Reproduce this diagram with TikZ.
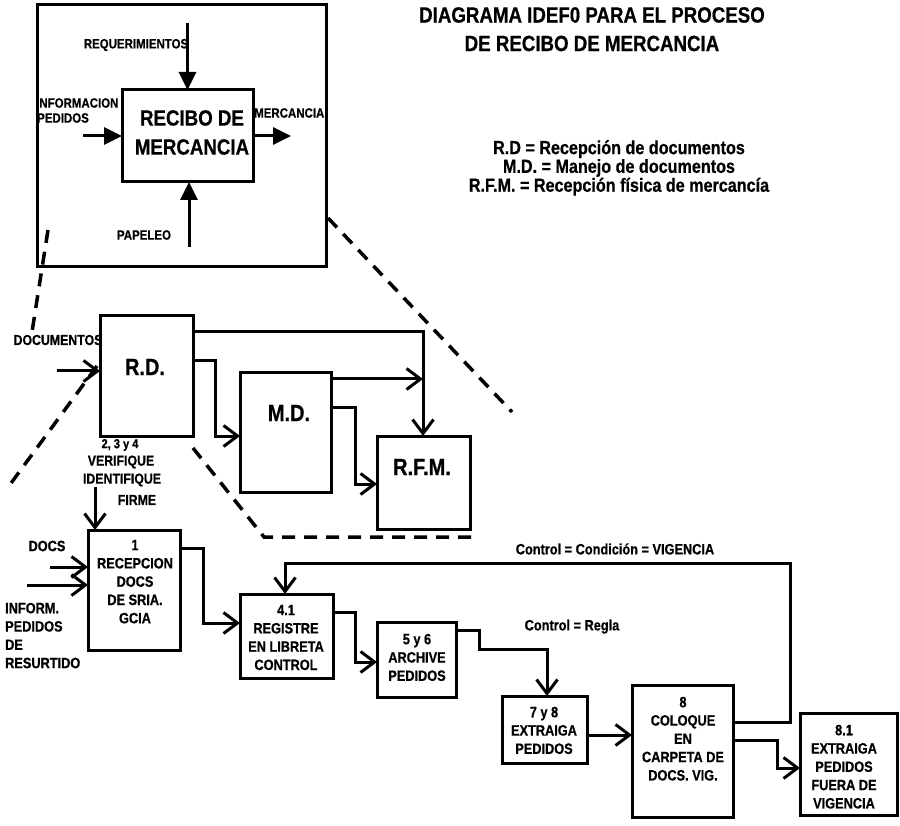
\documentclass[tikz,border=0pt]{standalone}
\usepackage{fontspec}
\setmainfont{Liberation Sans}[FakeStretch=0.85, BoldFeatures={FakeBold=0.6}]
\usetikzlibrary{arrows.meta}
\newcommand\myfs[2]{\fontsize{#1}{#2}\selectfont}
\begin{document}
\begin{tikzpicture}[x=1pt,y=-1pt,
  boxx/.style={draw, line width=3pt, inner sep=0pt, outer sep=0pt},
  ln/.style={line width=3pt},
  arrV/.style={ln, -{Straight Barb[length=14pt,width=21pt]}},
  arrF/.style={ln, -{Triangle[length=18pt,width=17pt]}},
  dsh/.style={line width=3.5pt, dash pattern=on 13pt off 9pt},
  lbl/.style={font=\bfseries\myfs{15}{18.3}, align=center, inner sep=0pt},
  slbl/.style={font=\bfseries\myfs{13.5}{15}, inner sep=0pt},
  big/.style={font=\bfseries\myfs{23.5}{26}, inner sep=0pt}
]
\useasboundingbox (0,0) rectangle (900,826);

% ---------- title and legend ----------
\node[font=\bfseries\myfs{22}{28.5}, align=center, inner sep=0pt, anchor=north] (title) at (592,7) {DIAGRAMA IDEF0 PARA EL PROCESO\\DE RECIBO DE MERCANCIA};
\node[font=\bfseries\myfs{19}{17}, align=center, inner sep=0pt, anchor=north] (legend) at (619,140) {R.D = Recepción de documentos\\M.D. = Manejo de documentos\\R.F.M. = Recepción física de mercancía};

% ---------- top context box ----------
\node[boxx, minimum width=289pt, minimum height=262pt] (outer) at (182,136) {};
\node[boxx, minimum width=131pt, minimum height=92pt] (inner) at (187.5,136) {};
\node[font=\bfseries\myfs{22}{29}, align=center, inner sep=0pt] (innert) at (192,132.5) {RECIBO DE\\MERCANCIA};

\coordinate (reqs) at (187.5,23);
\coordinate (infs) at (83,136);
\coordinate (oute) at (291,136);
\coordinate (paps) at (189,247);
\draw[arrF] (reqs) -- (inner.north);
\draw[arrF] (infs) -- (inner.west);
\draw[arrF] (inner.east) -- (oute);
\draw[arrF] (paps) -- (paps |- inner.south);

\node[slbl] (lreq) at (136,45) {REQUERIMIENTOS};
\node[slbl, anchor=west] (linf) at (36,103) {INFORMACION};
\node[slbl, anchor=west] (lped) at (37,118) {PEDIDOS};
\node[slbl, anchor=west] (lmer) at (254,113) {MERCANCIA};
\node[slbl] (lpap) at (144,235) {PAPELEO};

% ---------- middle decomposition ----------
\node[boxx, minimum width=93pt, minimum height=120pt] (RD) at (146.5,376) {};
\node[boxx, minimum width=91pt, minimum height=119pt] (MD) at (285.5,432.5) {};
\node[boxx, minimum width=93pt, minimum height=93pt] (RFM) at (423.5,482.5) {};
\node[big] (tRD) at (145,367) {R.D.};
\node[big] (tMD) at (289,413) {M.D.};
\node[big] (tRFM) at (422,467) {R.F.M.};

\node[font=\bfseries\myfs{14.5}{16}, inner sep=0pt] (ldoc) at (58,340) {DOCUMENTOS};
\coordinate (docs) at (57,371);
\draw[arrV] (docs) -- (docs -| RD.west);

\coordinate (rda) at (423,332);
\draw[arrV] (RD.east |- rda) -- (rda) -- (rda |- RFM.north);
\coordinate (rdb) at (215,361);
\coordinate (rdc) at (215,436);
\draw[arrV] (RD.east |- rdb) -- (rdb) -- (rdc) -- (rdc -| MD.west);
\coordinate (mda) at (423,379);
\draw[arrV] (MD.east |- mda) -- (mda);
\coordinate (mdb) at (355,407);
\coordinate (mdc) at (355,484);
\draw[arrV] (MD.east |- mdb) -- (mdb) -- (mdc) -- (mdc -| RFM.west);

\node[font=\bfseries\myfs{13}{15}, inner sep=0pt] (l234) at (120,445) {2, 3 y 4};
\node[font=\bfseries\myfs{14.5}{16}, inner sep=0pt] (lver) at (121,462) {VERIFIQUE};
\node[font=\bfseries\myfs{14.5}{16}, inner sep=0pt] (lide) at (122,480) {IDENTIFIQUE};
\node[font=\bfseries\myfs{14.5}{16}, inner sep=0pt] (lfir) at (137,500) {FIRME};

% ---------- dashed decomposition lines ----------
\coordinate (d1a) at (48,230);
\coordinate (d1b) at (32,332);
\coordinate (d2a) at (328,218);
\coordinate (d2b) at (512,412);
\coordinate (d3a) at (97,366);
\coordinate (d3b) at (6,490);
\coordinate (d4a) at (193,448);
\coordinate (d4b) at (264,537);
\coordinate (d4c) at (478,537);
\draw[dsh] (d1a) -- (d1b);
\draw[dsh] (d2a) -- (d2b);
\draw[dsh] (d3a) -- (d3b);
\draw[dsh] (d4a) -- (d4b) -- (d4c);

% ---------- detailed lower level ----------
\node[boxx, minimum width=92pt, minimum height=120pt] (B1) at (134,590) {};
\node[boxx, minimum width=93pt, minimum height=84pt] (B41) at (286.5,636) {};
\node[boxx, minimum width=79pt, minimum height=75pt] (B56) at (416.5,659.5) {};
\node[boxx, minimum width=85pt, minimum height=67pt] (B78) at (544.5,729.5) {};
\node[boxx, minimum width=101pt, minimum height=132pt] (B8) at (682.5,751) {};
\node[boxx, minimum width=97pt, minimum height=102pt] (B81) at (848.5,764) {};

\node[lbl, anchor=north] (tB1) at (135,539.6) {1\\RECEPCION\\DOCS\\DE SRIA.\\GCIA};
\node[lbl, anchor=north] (tB41) at (286,604.6) {4.1\\REGISTRE\\EN LIBRETA\\CONTROL};
\node[lbl, anchor=north] (tB56) at (417,633.6) {5 y 6\\ARCHIVE\\PEDIDOS};
\node[lbl, anchor=north] (tB78) at (544,706.6) {7 y 8\\EXTRAIGA\\PEDIDOS};
\node[lbl, anchor=north] (tB8) at (683,696.6) {8\\COLOQUE\\EN\\CARPETA DE\\DOCS. VIG.};
\node[lbl, anchor=north] (tB81) at (844,724.6) {8.1\\EXTRAIGA\\PEDIDOS\\FUERA DE\\VIGENCIA};

% inputs to B1
\coordinate (vin) at (95,487);
\draw[arrV] (vin) -- (vin |- B1.north);
\node[lbl] (ldocs) at (47,546) {DOCS};
\coordinate (in1) at (50,567);
\coordinate (in2) at (27,585);
\draw[arrV] (in1) -- (in1 -| B1.west);
\draw[arrV] (in2) -- (in2 -| B1.west);
\node[lbl, anchor=north west, align=left] (linform) at (5,602.6) {INFORM.\\PEDIDOS\\DE\\RESURTIDO};

% B1 -> B41
\coordinate (a1) at (203,548);
\coordinate (a2) at (203,623);
\draw[arrV] (B1.east |- a1) -- (a1) -- (a2) -- (a2 -| B41.west);
% B41 -> B56
\coordinate (b1) at (355,612);
\coordinate (b2) at (355,662);
\draw[arrV] (B41.east |- b1) -- (b1) -- (b2) -- (b2 -| B56.west);
% B56 -> B78
\coordinate (c1) at (479,630);
\coordinate (c2) at (479,649);
\coordinate (c3) at (547,649);
\draw[arrV] (B56.east |- c1) -- (c1) -- (c2) -- (c3) -- (c3 |- B78.north);
\node[font=\bfseries\myfs{15}{18}, anchor=base, inner sep=0pt] (lregla) at (572,630.4) {Control = Regla};
% B78 -> B8
\coordinate (e1) at (600,735);
\draw[arrV] (B78.east |- e1) -- (e1 -| B8.west);
% B8 feedback -> B41
\coordinate (f1) at (790,722);
\coordinate (f2) at (790,563);
\coordinate (f3) at (285,563);
\draw[arrV] (B8.east |- f1) -- (f1) -- (f2) -- (f3) -- (f3 |- B41.north);
\node[font=\bfseries\myfs{15}{18}, anchor=base, inner sep=0pt] (lvig) at (615,554.4) {Control = Condición = VIGENCIA};
% B8 -> B81
\coordinate (g1) at (777,740);
\coordinate (g2) at (777,768);
\draw[arrV] (B8.east |- g1) -- (g1) -- (g2) -- (g2 -| B81.west);
\end{tikzpicture}
\end{document}
